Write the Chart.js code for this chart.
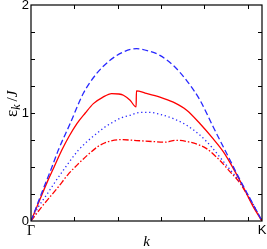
<!DOCTYPE html>
<html>
<head>
  <meta charset="UTF-8" />
  <script src="https://cdn.jsdelivr.net/npm/chart.js"></script>
  <style>
    html, body { margin: 0; padding: 0; background: #fff; }
    #wrap { width: 267px; height: 249px; }
  </style>
</head>
<body>
  <div id="wrap"><canvas id="myChart" width="267" height="249"></canvas></div>

  <script>
    // k runs from Gamma (0) to K (1)
    const kBlueDash = [0, 0.05, 0.089, 0.118, 0.169, 0.226, 0.284, 0.342, 0.40, 0.457, 0.515, 0.558, 0.616, 0.674, 0.732, 0.789, 0.84, 0.905, 0.95, 1];
    const eBlueDash = [0, 0.28, 0.49, 0.655, 0.90, 1.18, 1.365, 1.488, 1.565, 1.596, 1.57, 1.534, 1.44, 1.30, 1.117, 0.87, 0.655, 0.38, 0.20, 0];

    const kRedSolid = [0, 0.035, 0.07, 0.10, 0.133, 0.165, 0.198, 0.235, 0.27, 0.31, 0.349, 0.38, 0.40, 0.429, 0.455, 0.4565, 0.494, 0.558, 0.616, 0.674, 0.732, 0.789, 0.833, 0.875, 0.92, 0.96, 1];
    const eRedSolid = [0, 0.18, 0.36, 0.50, 0.655, 0.785, 0.90, 1.00, 1.087, 1.145, 1.18, 1.176, 1.164, 1.118, 1.056, 1.204, 1.185, 1.148, 1.10, 1.025, 0.90, 0.76, 0.64, 0.49, 0.31, 0.14, 0];

    const kBlueDot = [0, 0.032, 0.07, 0.104, 0.15, 0.205, 0.245, 0.284, 0.32, 0.356, 0.39, 0.429, 0.472, 0.515, 0.558, 0.616, 0.674, 0.732, 0.782, 0.818, 0.86, 0.905, 0.95, 1];
    const eBlueDot = [0, 0.13, 0.25, 0.36, 0.50, 0.655, 0.74, 0.81, 0.87, 0.917, 0.955, 0.979, 1.005, 1.005, 0.988, 0.948, 0.886, 0.794, 0.685, 0.59, 0.48, 0.36, 0.20, 0];

    const kRedDashDot = [0, 0.046, 0.085, 0.118, 0.16, 0.205, 0.25, 0.29, 0.327, 0.385, 0.457, 0.53, 0.58, 0.63, 0.688, 0.732, 0.76, 0.818, 0.86, 0.905, 0.95, 1];
    const eRedDashDot = [0, 0.13, 0.23, 0.315, 0.43, 0.53, 0.62, 0.69, 0.73, 0.753, 0.745, 0.735, 0.73, 0.747, 0.73, 0.70, 0.67, 0.56, 0.46, 0.35, 0.19, 0];

    const xTicks = [0.1875, 0.375, 0.5625, 0.75, 0.9375];
    const yTicks = [0.25, 0.5, 0.75, 1, 1.25, 1.5, 1.75];
    const yLabels = [0, 1, 2];

    function pts(ks, es) {
      return ks.map((k, i) => ({ x: k, y: es[i] }));
    }

    const blue = 'rgb(40,40,255)';
    const red = 'rgb(255,0,0)';

    // frame, inward ticks and labels
    const framePlugin = {
      id: 'frame',
      afterDraw(chart) {
        const ctx = chart.ctx;
        const xs = chart.scales.x, ys = chart.scales.y;
        const a = chart.chartArea;
        ctx.save();
        ctx.strokeStyle = '#000';
        ctx.lineWidth = 1.2;
        ctx.strokeRect(a.left, a.top, a.right - a.left, a.bottom - a.top);
        ctx.lineWidth = 1;
        ctx.beginPath();
        xTicks.forEach(v => {
          const px = Math.round(xs.getPixelForValue(v)) + 0.5;
          ctx.moveTo(px, a.bottom); ctx.lineTo(px, a.bottom - 4);
          ctx.moveTo(px, a.top); ctx.lineTo(px, a.top + 4);
        });
        yTicks.forEach(v => {
          const py = Math.round(ys.getPixelForValue(v)) + 0.5;
          ctx.moveTo(a.left, py); ctx.lineTo(a.left + 4, py);
          ctx.moveTo(a.right, py); ctx.lineTo(a.right - 4, py);
        });
        ctx.stroke();

        ctx.fillStyle = '#000';
        ctx.font = '13px "Liberation Sans", Arial, sans-serif';
        ctx.textAlign = 'right';
        ctx.textBaseline = 'middle';
        yLabels.forEach(v => {
          ctx.fillText(String(v), a.left - 2, ys.getPixelForValue(v));
        });

        ctx.textAlign = 'center';
        ctx.textBaseline = 'top';
        ctx.font = '14px "Liberation Serif", "Times New Roman", serif';
        ctx.fillText('\u0393', xs.getPixelForValue(0), a.bottom + 3);
        ctx.font = '13px "Liberation Sans", Arial, sans-serif';
        ctx.fillText('K', xs.getPixelForValue(1), a.bottom + 3);
        ctx.font = 'italic 15px "Liberation Serif", "Times New Roman", serif';
        ctx.fillText('k', (a.left + a.right) / 2, a.bottom + 14);

        // y axis title: epsilon_k / J
        ctx.translate(13, 98);
        ctx.rotate(-Math.PI / 2);
        ctx.textAlign = 'left';
        ctx.textBaseline = 'middle';
        ctx.font = '17px "Liberation Serif", "Times New Roman", serif';
        let x0 = -19;
        ctx.fillText('\u03b5', x0, 0);
        x0 += ctx.measureText('\u03b5').width;
        ctx.font = 'italic 12px "Liberation Serif", "Times New Roman", serif';
        ctx.fillText('k', x0, 4);
        x0 += ctx.measureText('k').width + 3;
        ctx.font = '15px "Liberation Serif", "Times New Roman", serif';
        ctx.fillText('/', x0, 0);
        x0 += ctx.measureText('/').width;
        ctx.font = 'italic 15px "Liberation Serif", "Times New Roman", serif';
        ctx.fillText('J', x0, 0);
        ctx.restore();
      }
    };

    const common = { fill: false, pointRadius: 0, borderWidth: 1.3, cubicInterpolationMode: 'monotone' };

    const ctx = document.getElementById('myChart').getContext('2d');
    const chart = new Chart(ctx, {
      type: 'line',
      data: {
        datasets: [
          Object.assign({ data: pts(kBlueDash, eBlueDash), borderColor: blue, borderDash: [6, 3] }, common),
          Object.assign({ data: pts(kRedSolid, eRedSolid), borderColor: red }, common),
          Object.assign({ data: pts(kBlueDot, eBlueDot), borderColor: blue, borderDash: [1.3, 2.7] }, common),
          Object.assign({ data: pts(kRedDashDot, eRedDashDot), borderColor: red, borderDash: [6, 2, 1.5, 2] }, common)
        ]
      },
      options: {
        responsive: false,
        animation: false,
        events: [],
        layout: { padding: { top: 5, right: 5, left: 0, bottom: 0 } },
        plugins: { legend: { display: false }, tooltip: { enabled: false } },
        scales: {
          x: {
            type: 'linear', min: 0, max: 1,
            grid: { display: false }, border: { display: false },
            ticks: { display: false },
            afterFit: s => { s.height = 28; }
          },
          y: {
            min: 0, max: 2,
            grid: { display: false }, border: { display: false },
            ticks: { display: false },
            afterFit: s => { s.width = 31; }
          }
        }
      },
      plugins: [framePlugin]
    });
  </script>
</body>
</html>
